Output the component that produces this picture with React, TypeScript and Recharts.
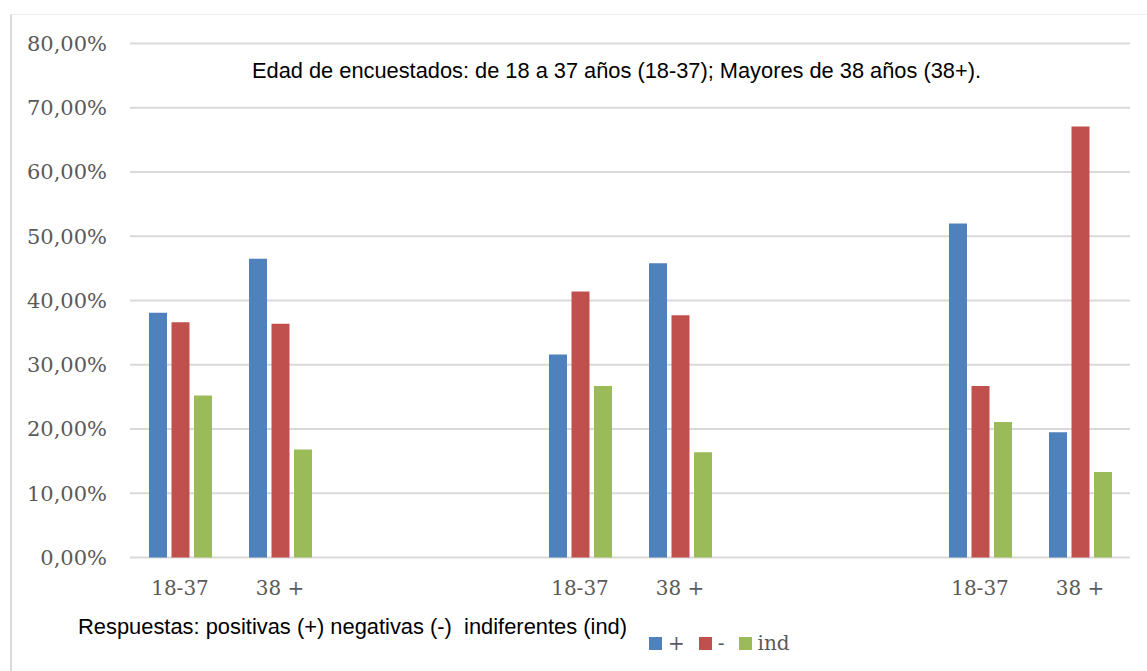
import React from "react";
import { BarChart, Bar, XAxis, YAxis, CartesianGrid } from "recharts";

const categories = ["18-37", "38 +", "", "", "18-37", "38 +", "", "", "18-37", "38 +"];
const positivas = [38.1, 46.5, null, null, 31.6, 45.8, null, null, 52.0, 19.5];
const negativas = [36.6, 36.4, null, null, 41.4, 37.7, null, null, 26.7, 67.1];
const indiferentes = [25.2, 16.8, null, null, 26.7, 16.4, null, null, 21.1, 13.3];
const yTicks = [0, 10, 20, 30, 40, 50, 60, 70, 80];

const series = [
  { key: "pos", name: "+", color: "#4F81BD" },
  { key: "neg", name: "-", color: "#C0504D" },
  { key: "ind", name: "ind", color: "#9BBB59" },
];

const data = categories.map((c, i) => ({
  cat: c,
  pos: positivas[i],
  neg: negativas[i],
  ind: indiferentes[i],
}));

const serif = "'DejaVu Serif', serif";
const sans = "'Liberation Sans Narrow', 'Liberation Sans', Arial, sans-serif";

const fmt = (v: number) => v.toFixed(2).replace(".", ",") + "%";

function LegendBox() {
  return (
    <div
      style={{
        position: "absolute",
        left: 649,
        top: 631,
        display: "flex",
        alignItems: "center",
        fontFamily: serif,
        fontSize: 20,
        color: "#595959",
      }}
    >
      {series.map((s) => (
        <div key={s.key} style={{ display: "flex", alignItems: "center", marginRight: 14 }}>
          <span style={{ width: 13, height: 13, background: s.color, display: "inline-block", marginRight: 6 }} />
          <span>{s.name}</span>
        </div>
      ))}
    </div>
  );
}

export default function App() {
  return (
    <div style={{ position: "absolute", left: 0, top: 0, width: 1147, height: 671, background: "#fff", overflow: "hidden" }}>
      <div
        style={{
          position: "absolute",
          left: 10,
          top: 14,
          width: 1150,
          height: 670,
          borderLeft: "2px solid #d9d9d9",
          borderTop: "1px solid #eeeeee",
        }}
      />
      <BarChart
        width={1147}
        height={671}
        data={data}
        margin={{ top: 43.5, right: 17, bottom: 83.5, left: 0 }}
        barSize={18}
        barGap={4.5}
      >
        <CartesianGrid vertical={false} stroke="#d9d9d9" strokeWidth={2} />
        <XAxis
          dataKey="cat"
          axisLine={false}
          tickLine={false}
          tickSize={0}
          tickMargin={23}
          height={30}
          interval={0}
          tick={{ fontFamily: serif, fontSize: 20, fill: "#595959" }}
        />
        <YAxis
          width={130}
          domain={[0, 80]}
          ticks={yTicks}
          tickFormatter={fmt}
          axisLine={false}
          tickLine={false}
          tickSize={0}
          tickMargin={23}
          tick={{ fontFamily: serif, fontSize: 21, fill: "#595959" }}
        />
        {series.map((s) => (
          <Bar key={s.key} dataKey={s.key} name={s.name} fill={s.color} isAnimationActive={false} />
        ))}
      </BarChart>
      <LegendBox />
      <svg width={1147} height={671} style={{ position: "absolute", left: 0, top: 0, pointerEvents: "none" }}>
        <text x={252} y={78} fontFamily={sans} fontSize={22} fill="#000" textLength={729} lengthAdjust="spacingAndGlyphs">
          Edad de encuestados: de 18 a 37 años (18-37); Mayores de 38 años (38+).
        </text>
        <text x={78} y={634} fontFamily={sans} fontSize={22} fill="#000" textLength={549} lengthAdjust="spacingAndGlyphs" xmlSpace="preserve">
          Respuestas: positivas (+) negativas (-)  indiferentes (ind)
        </text>
      </svg>
    </div>
  );
}
